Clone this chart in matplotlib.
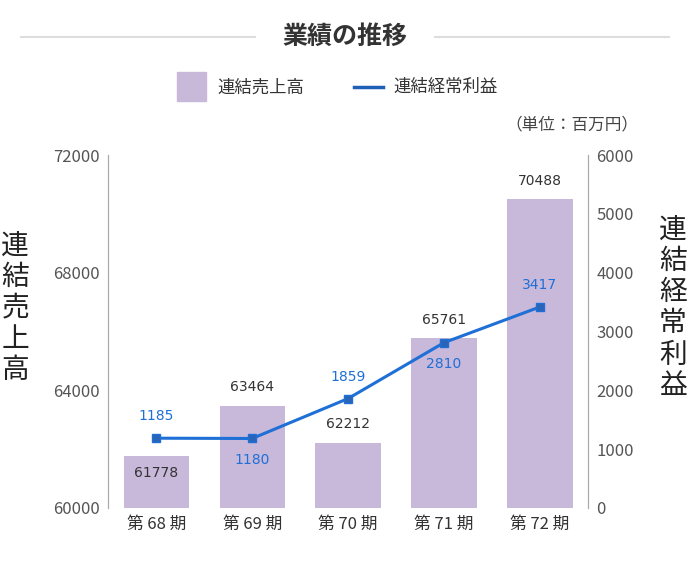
import matplotlib.pyplot as plt
import numpy as np

plt.rcParams['font.family'] = 'Noto Sans CJK JP'

periods = ['第 68 期', '第 69 期', '第 70 期', '第 71 期', '第 72 期']
sales = [61778, 63464, 62212, 65761, 70488]
profit = [1185, 1180, 1859, 2810, 3417]
profit_below = [False, True, False, True, False]

fig = plt.figure(figsize=(6.9, 5.7), dpi=100)
ax = fig.add_axes([0.157, 0.109, 0.695, 0.619])
ax2 = ax.twinx()

x = np.arange(len(periods))
ax.bar(x, [s - 60000 for s in sales], bottom=60000, width=0.68, color='#c8b8da', zorder=2)
ax.set_ylim(60000, 72000)
ax.set_yticks([60000, 64000, 68000, 72000])
ax.set_xlim(-0.5, 4.5)
ax.set_xticks(x)
ax.set_xticklabels(periods)
for i, s in enumerate(sales):
    if s < 62000:
        ax.text(i, s - 350, str(s), ha='center', va='top', fontsize=10,
                color='#333333', family='DejaVu Sans')
    else:
        ax.text(i, s + 400, str(s), ha='center', va='bottom', fontsize=10,
                color='#333333', family='DejaVu Sans')

ax2.plot(x, profit, color='#1e6fd6', lw=2.2, marker='s', ms=6,
         markerfacecolor='#2a64b8', markeredgecolor='#1e6fd6', zorder=3)
ax2.set_ylim(0, 6000)
ax2.set_yticks(range(0, 6001, 1000))
for i, p in enumerate(profit):
    if profit_below[i]:
        ax2.text(i, p - 250, str(p), ha='center', va='top', fontsize=10,
                 color='#1e6fd6', family='DejaVu Sans')
    else:
        ax2.text(i, p + 250, str(p), ha='center', va='bottom', fontsize=10,
                 color='#1e6fd6', family='DejaVu Sans')

for a in (ax, ax2):
    a.spines['top'].set_visible(False)
    a.spines['bottom'].set_visible(False)
    a.spines['left'].set_color('#aaaaaa')
    a.spines['right'].set_color('#aaaaaa')
    a.tick_params(length=0, labelsize=12, colors='#555555', pad=6)
ax.tick_params(axis='x', colors='#333333', labelsize=12)

fig.text(0.022, 0.46, '\n'.join('連結売上高'), fontsize=20, ha='center', va='center',
         linespacing=1.05, color='#222222')
fig.text(0.975, 0.46, '\n'.join('連結経常利益'), fontsize=20, ha='center', va='center',
         linespacing=1.05, color='#222222')

fig.text(0.5, 0.935, '業績の推移', fontsize=18, fontweight='bold', ha='center', va='center', color='#333333')
fig.add_artist(plt.Line2D([0.03, 0.37], [0.935, 0.935], color='#dddddd', lw=1.5))
fig.add_artist(plt.Line2D([0.63, 0.97], [0.935, 0.935], color='#dddddd', lw=1.5))

fig.add_artist(plt.Rectangle((0.257, 0.823), 0.042, 0.05, color='#c8b8da'))
fig.text(0.315, 0.847, '連結売上高', fontsize=12.5, va='center', color='#333333')
fig.add_artist(plt.Line2D([0.513, 0.555], [0.847, 0.847], color='#1e5fb8', lw=2.5))
fig.text(0.57, 0.847, '連結経常利益', fontsize=12.5, va='center', color='#333333')
fig.text(0.925, 0.78, '（単位：百万円）', fontsize=12, ha='right', va='center', color='#444444')

fig.savefig('out.png', dpi=100)
